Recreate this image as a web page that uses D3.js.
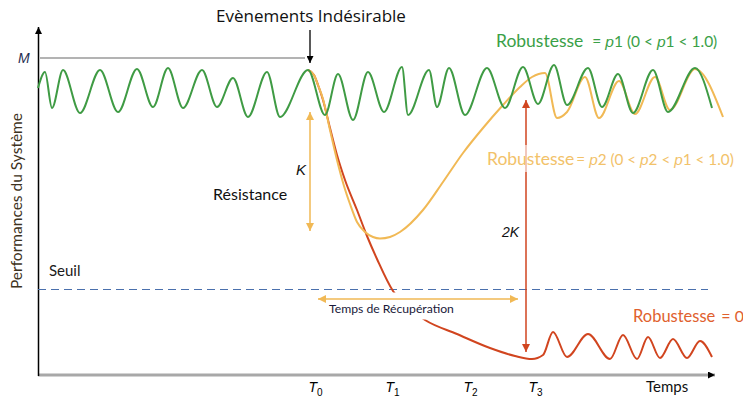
<!DOCTYPE html>
<html><head><meta charset="utf-8">
<script src="https://cdn.jsdelivr.net/npm/d3@7/dist/d3.min.js"></script>
<style>body{margin:0;background:#fff}svg{display:block}</style>
</head><body><svg id="c" width="743" height="403"></svg>
<script>
// ---- data (time units, performance units) ----
const robustP1 = [[0,28.7],[0.7,30.3],[1.4,26.7],[2.5,30.5],[4.2,26.2],[6.2,30.5],[8.0,26.3],[9.9,30.6],[11.5,26.8],[13.0,30.7],[14.5,26.7],[16.4,30.5],[17.9,26.8],[19.5,29.7],[21.0,25.8],[22.9,30.3],[24.2,25.8],[27.0,30.5],[28.7,26.0],[30.0,30.1],[31.5,25.5],[33.0,30.3],[34.6,26.3],[36.4,30.8],[37.0,26.0],[39.1,30.5],[39.9,26.8],[41.1,30.7],[42.7,26.0],[44.9,30.7],[46.7,26.7],[48.5,30.8],[50.0,27.1],[51.6,31.0],[52.9,27.0],[55.0,30.7],[56.4,26.8],[58.0,30.1],[59.5,26.2],[61.5,30.5],[63.0,26.3],[65.7,30.7],[67.4,26.7]];
const robustP2 = [[27.0,30.5],[27.6,30.0],[28.0,29.0],[28.5,27.6],[29.2,24.5],[29.9,21.5],[30.6,18.9],[31.2,17.1],[31.9,15.3],[32.7,14.3],[33.5,13.8],[34.2,13.65],[35.2,13.8],[36.2,14.3],[38.5,16.5],[40.5,19.3],[42.5,22.2],[44.5,24.7],[46.5,27.0],[48.2,28.8],[49.4,29.8],[50.7,30.2],[51.9,25.7],[52.9,26.3],[54.7,29.8],[56.1,25.7],[58.1,29.4],[59.7,26.1],[61.7,29.8],[63.2,26.5],[65.7,30.6],[68.5,25.8]];
const robust0 = [[27.0,30.5],[27.6,30.0],[28.0,29.0],[28.5,27.5],[29.2,24.7],[29.9,22.0],[30.7,19.5],[31.9,16.5],[32.9,13.9],[33.9,11.6],[35.5,8.4],[36.5,7.2],[37.7,6.2],[38.7,5.5],[41.9,4.1],[45.2,2.7],[47.7,1.9],[49.4,1.6],[50.5,2.0],[51.5,4.3],[52.9,1.8],[55.0,4.1],[57.2,1.6],[58.5,4.0],[59.9,1.6],[61.0,3.8],[62.2,1.7],[63.5,3.6],[64.9,1.7],[66.2,3.4],[67.4,1.8]];
const timeTickLabels = ["T","T","T","T"];
const timeTickSubs = ["0","1","2","3"];
const timeTickValues = [27.7, 35.4, 43.2, 49.7];
const levelM = 31.7, levelSeuil = 8.6;
const eventTime = 27.2;
const kRange = [26.3, 14.4];
const k2Time = 48.8, k2Range = [27.5, 2.3];
const recovery = [28.0, 48.0], recoveryLevel = 7.6;

// ---- setup ----
const svg = d3.select("#c");
svg.append("rect").attr("width",743).attr("height",403).attr("fill","#fff");
const x = d3.scaleLinear().domain([0,67.7]).range([38,715]);
const y = d3.scaleLinear().domain([0,31.7]).range([375,58]);
const GREEN="#3f9b44", ORANGE="#f1b955", RED="#d1451f";
const defs = svg.append("defs");
function marker(id,color,w,h){
  defs.append("marker").attr("id",id).attr("viewBox","0 0 10 10").attr("refX",10).attr("refY",5)
   .attr("markerWidth",w).attr("markerHeight",h).attr("markerUnits","userSpaceOnUse")
   .attr("orient","auto-start-reverse").append("path").attr("d","M0,0L10,5L0,10Z").attr("fill",color);
}
marker("ab","#000",8,7); marker("ao",ORANGE,9,8); marker("ar",RED,9,8); marker("ax","#000",8,7);

// axes
svg.append("line").attr("x1",x(0)).attr("x2",x(67.7)).attr("y1",y(0)).attr("y2",y(0))
  .attr("stroke","#a8a8a8").attr("stroke-width",3).attr("marker-end","url(#ax)");
svg.append("line").attr("x1",x(0)+0.5).attr("x2",x(0)+0.5).attr("y1",y(0)+1).attr("y2",27)
  .attr("stroke","#000").attr("stroke-width",1.5).attr("marker-end","url(#ab)");
const xAxis = d3.axisBottom(x).tickValues(timeTickValues).tickSize(0).tickFormat(()=>"");
const gx = svg.append("g").attr("transform",`translate(0,${y(0)})`).call(xAxis);
gx.select(".domain").remove();
gx.selectAll(".tick text").attr("y",17).attr("dy",null).attr("fill","#000")
  .attr("font-family","Liberation Sans").attr("font-size",14).attr("font-style","italic")
  .each(function(d,i){
    const t=d3.select(this);
    t.append("tspan").text(timeTickLabels[i]);
    t.append("tspan").attr("font-size",10).attr("font-style","normal").attr("dy",4).text(timeTickSubs[i]);
  });
svg.append("text").attr("x",646).attr("y",392).attr("font-family","Lato").attr("font-size",15).attr("fill","#111").text("Temps");

// y label
svg.append("text").attr("transform",`translate(22,${y(17.4)}) rotate(-90)`).attr("text-anchor","middle")
  .attr("font-family","Lato").attr("font-size",15.5).attr("fill","#3d3220").text("Performances du Système");

// M level
svg.append("line").attr("x1",x(0.2)).attr("x2",x(26.7)).attr("y1",y(levelM)).attr("y2",y(levelM)).attr("stroke","#9a9a9a").attr("stroke-width",1.3);
svg.append("text").attr("x",18).attr("y",y(levelM)+5).attr("font-family","Liberation Sans").attr("font-style","italic").attr("font-size",14).attr("fill","#1f2d50").text("M");

// Seuil
svg.append("line").attr("x1",x(0)).attr("x2",x(67.0)).attr("y1",y(levelSeuil)+0.5).attr("y2",y(levelSeuil)+0.5)
  .attr("stroke","#4a70ad").attr("stroke-width",1.2).attr("stroke-dasharray","8,5");
svg.append("text").attr("x",49).attr("y",276).attr("font-family","Lato").attr("font-size",15).attr("fill","#1a1a1a").text("Seuil");

// title + event arrow
svg.append("text").attr("x",216).attr("y",22).attr("font-family","Open Sans").attr("font-size",17).attr("fill","#111").text("Evènements Indésirable");
svg.append("line").attr("x1",x(eventTime)).attr("x2",x(eventTime)).attr("y1",30).attr("y2",63).attr("stroke","#000").attr("stroke-width",1.3).attr("marker-end","url(#ab)");

// curves
const line = d3.line().x(d=>x(d[0])).y(d=>y(d[1])).curve(d3.curveMonotoneX);
svg.append("path").datum(robust0).attr("d",line).attr("fill","none").attr("stroke",RED).attr("stroke-width",2);
// white box behind recovery label
svg.append("rect").attr("x",326).attr("y",y(levelSeuil)+3.5).attr("width",136).attr("height",27).attr("fill","#fff");
svg.append("path").datum(robustP2).attr("d",line).attr("fill","none").attr("stroke",ORANGE).attr("stroke-width",2);
svg.append("path").datum(robustP1).attr("d",line).attr("fill","none").attr("stroke",GREEN).attr("stroke-width",2);

// K arrow
svg.append("line").attr("x1",x(eventTime)).attr("x2",x(eventTime)).attr("y1",y(kRange[0])).attr("y2",y(kRange[1]))
  .attr("stroke",ORANGE).attr("stroke-width",1.5).attr("marker-start","url(#ao)").attr("marker-end","url(#ao)");
svg.append("text").attr("x",296).attr("y",175).attr("font-family","Liberation Sans").attr("font-style","italic").attr("font-size",15).attr("fill","#111").text("K");
svg.append("text").attr("x",213).attr("y",200).attr("font-family","Lato").attr("font-size",16).attr("fill","#111").text("Résistance");

// 2K arrow
svg.append("line").attr("x1",x(k2Time)).attr("x2",x(k2Time)).attr("y1",y(k2Range[0])).attr("y2",y(k2Range[1]))
  .attr("stroke",RED).attr("stroke-width",1.5).attr("marker-start","url(#ar)").attr("marker-end","url(#ar)");
svg.append("text").attr("x",502).attr("y",237).attr("font-family","Liberation Sans").attr("font-style","italic").attr("font-size",14).attr("fill","#111").text("2K");

// recovery arrow
svg.append("line").attr("x1",x(recovery[0])).attr("x2",x(recovery[1])).attr("y1",y(recoveryLevel)).attr("y2",y(recoveryLevel))
  .attr("stroke",ORANGE).attr("stroke-width",1.5).attr("marker-start","url(#ao)").attr("marker-end","url(#ao)");
svg.append("text").attr("x",329).attr("y",313).attr("font-family","Lato").attr("font-size",12.2).attr("fill","#1a1a3a").text("Temps de Récupération");

// series labels
function robLabel(xp,yp,color,big,small,gap,parts){
  const t=svg.append("text").attr("x",xp).attr("y",yp).attr("fill",color).attr("font-family","Lato");
  t.append("tspan").attr("font-size",big).text("Robustesse");
  let first=true;
  parts.forEach(p=>{
    const s=t.append("tspan").attr("font-size",small).text(p[0]);
    if(first){s.attr("dx",gap);first=false;}
    if(p[1]) s.attr("font-style","italic").attr("font-family","Liberation Sans");
  });
}
robLabel(496,47,"#3aa047",17.5,15.5,9,[["= "],["p",1],["1 (0 < "],["p",1],["1 < 1.0)"]]);
svg.append("rect").attr("x",486).attr("y",145).attr("width",257).attr("height",27).attr("fill","#fff").attr("opacity",0.6);
robLabel(487,165,"#f2c26a",17.5,15.3,2,[["= "],["p",1],["2 (0 < "],["p",1],["2 < "],["p",1],["1 < 1.0)"]]);
robLabel(633,322,"#e0612e",16.5,16,6,[["= 0"]]);
</script></body></html>
